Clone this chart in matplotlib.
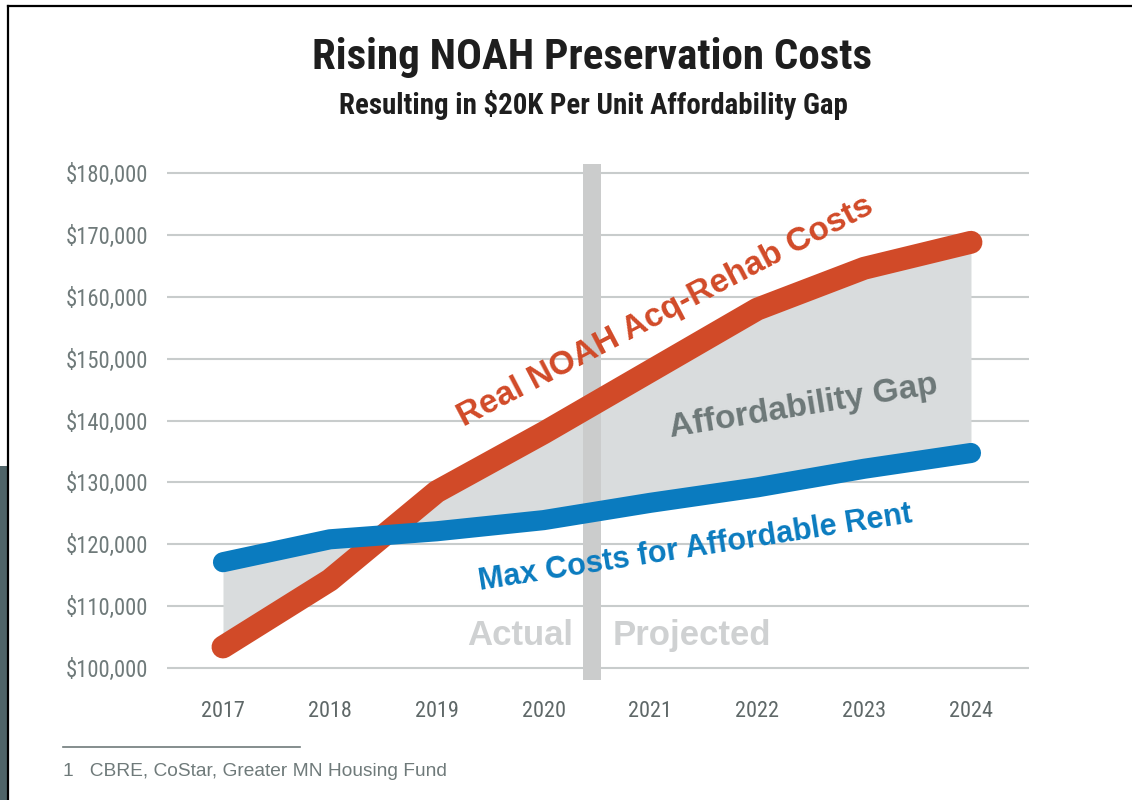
import matplotlib
matplotlib.use("Agg")
import matplotlib.pyplot as plt
from matplotlib.patches import Rectangle
from matplotlib.lines import Line2D

years = [2017, 2018, 2019, 2020, 2021, 2022, 2023, 2024]
acq_rehab = [103400, 114200, 128500, 138000, 148000, 158000, 164600, 168800]
max_afford = [117100, 120800, 122100, 123900, 126700, 129200, 132200, 134750]
y_ticks = [100000, 110000, 120000, 130000, 140000, 150000, 160000, 170000, 180000]
y_tick_labels = [f"${v:,.0f}" for v in y_ticks]
split_year = 2020.45

title = "Rising NOAH Preservation Costs"
subtitle = "Resulting in $20K Per Unit Affordability Gap"
footnote = "1   CBRE, CoStar, Greater MN Housing Fund"

RED = "#d14a28"
BLUE = "#0a7bbf"
FILL = "#d9dcdd"
BAR = "#cbcccc"
GRID = "#c8cccc"
TICK = "#6f7a7a"
GAPTXT = "#6d7878"
LIGHT = "#cfd1d2"

W, H = 1132, 800
fig = plt.figure(figsize=(W / 100, H / 100), dpi=100)
fig.patch.set_facecolor("white")

# frame decorations
fig.patches.append(Rectangle((0, 0), 7 / W, (H - 466) / H, transform=fig.transFigure,
                             facecolor="#4f6468", edgecolor="none", zorder=0))
fig.lines.append(Line2D([7.5 / W, 7.5 / W], [0, 1 - 6 / H], transform=fig.transFigure,
                        color="black", lw=1.6))
fig.lines.append(Line2D([7.5 / W, 1], [1 - 6 / H, 1 - 6 / H], transform=fig.transFigure,
                        color="black", lw=1.6))

ax = fig.add_axes([167 / W, 1 - 680.4 / H, (1029 - 167) / W, (680.4 - 163.7) / H])
ax.set_xlim(2016.476, 2024.543)
ax.set_ylim(98000, 181500)
for s in ax.spines.values():
    s.set_visible(False)
ax.set_facecolor("none")

for v in y_ticks:
    ax.axhline(v, color=GRID, lw=1.5, zorder=1)

ax.fill_between(years, max_afford, acq_rehab, color=FILL, lw=0, zorder=2)
ax.axvspan(split_year - 0.085, split_year + 0.085, color=BAR, lw=0, zorder=3)
ax.plot(years, acq_rehab, color=RED, lw=16.5, solid_capstyle="round",
        solid_joinstyle="round", zorder=4)
ax.plot(years, max_afford, color=BLUE, lw=14.5, solid_capstyle="round",
        solid_joinstyle="round", zorder=5)

ax.set_yticks(y_ticks)
ax.set_yticklabels(y_tick_labels)
ax.set_xticks(years)
ax.set_xticklabels([str(y) for y in years])
ax.tick_params(axis="both", length=0)
ax.tick_params(axis="y", pad=13.5, labelcolor=TICK, labelsize=16.3)
ax.tick_params(axis="x", pad=15, labelcolor="#5f6868", labelsize=16)
for lab in ax.get_yticklabels() + ax.get_xticklabels():
    lab.set_family("Roboto Condensed")
    lab.set_weight(400)

bold = dict(family="Liberation Sans", weight="bold", rotation_mode="anchor",
            ha="center", va="center")
ax.text(2021.14, 157600, "Real NOAH Acq-Rehab Costs", color=RED, fontsize=24,
        rotation=27.6, zorder=6, **bold)
ax.text(2021.42, 119300, "Max Costs for Affordable Rent", color=BLUE, fontsize=22,
        rotation=8.9, zorder=6, **bold)
ax.text(2022.43, 142300, "Affordability Gap", color=GAPTXT, fontsize=24,
        rotation=9.3, zorder=6, **bold)
ax.text(2019.78, 105300, "Actual", color=LIGHT, fontsize=25, zorder=6, **bold)
ax.text(2021.39, 105300, "Projected", color=LIGHT, fontsize=25, zorder=6, **bold)

fig.text(592 / W, 1 - 57 / H, title, family="Roboto Condensed", weight="bold",
         fontsize=31, color="#1e1e1e", ha="center", va="center")
fig.text(593 / W, 1 - 105 / H, subtitle, family="Roboto Condensed", weight="bold",
         fontsize=20.8, color="#1e1e1e", ha="center", va="center")

fig.lines.append(Line2D([63 / W, 300 / W], [1 - 747 / H, 1 - 747 / H],
                        transform=fig.transFigure, color=TICK, lw=1.2))
fig.text(63 / W, 1 - 771 / H, footnote, family="Liberation Sans", fontsize=13.8,
         color=TICK, ha="left", va="center")

fig.savefig("out.png", dpi=100)
